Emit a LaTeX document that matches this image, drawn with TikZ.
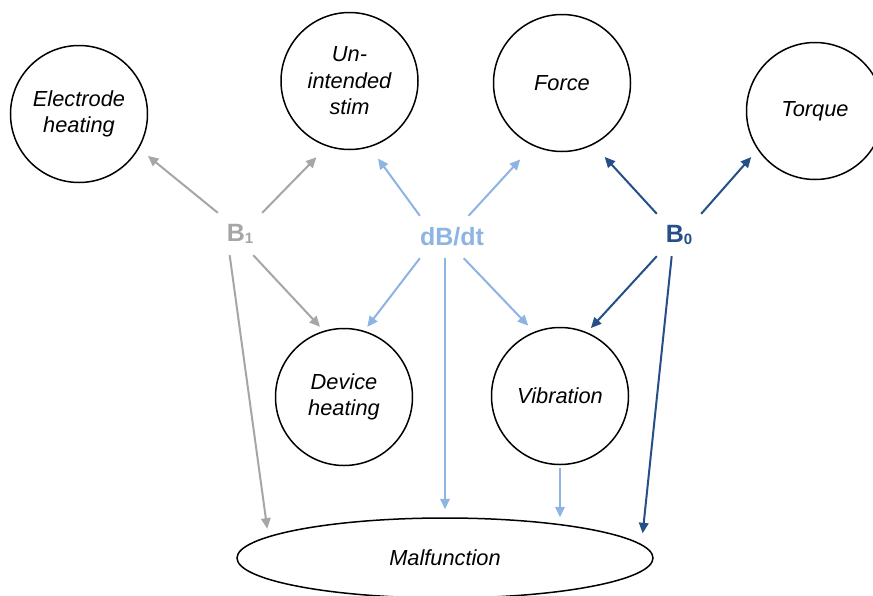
\documentclass[tikz,border=0pt]{standalone}
\usepackage{fontspec}
\setmainfont{Liberation Sans}
\usetikzlibrary{shapes.geometric,arrows.meta}
\definecolor{gB}{RGB}{166,166,166}
\definecolor{lB}{RGB}{141,180,226}
\definecolor{dB}{RGB}{36,79,135}
\newcommand{\mysub}[1]{\raisebox{-1.5pt}{\fontsize{15}{15}\selectfont #1}}
\begin{document}
\begin{tikzpicture}[x=1pt,y=-1pt,
  bub/.style={draw=black, circle, line width=1.5pt, minimum size=137pt, inner sep=0pt,
    align=center, font=\fontsize{21.8}{26.5}\selectfont\itshape},
  lab/.style={inner sep=0pt, minimum width=44pt, minimum height=42pt,
    font=\fontsize{25}{25}\selectfont\bfseries},
  arr/.style={line width=2pt, -{Triangle[length=10.5pt,width=9.5pt]}},
  garr/.style={arr, draw=gB, fill=gB},
  larr/.style={arr, draw=lB, fill=lB},
  darr/.style={arr, draw=dB, fill=dB}]
\clip (0,0) rectangle (873,595);
\fill[white] (0,0) rectangle (873,595);

\node[bub] (eh) at (79,114) {Electrode\\heating};
\node[bub] (uis) at (349.5,81) {Un-\\intended\\stim};
\node[bub] (force) at (562,83) {Force};
\node[bub] (torque) at (815,111) {Torque};
\node[bub] (dh) at (344,397) {Device\\heating};
\node[bub] (vib) at (560,396) {Vibration};
\node[draw=black, ellipse, line width=1.5pt, minimum width=416pt, minimum height=80pt,
  inner sep=0pt, font=\fontsize{21.8}{26.5}\selectfont\itshape] (mf) at (445,558) {Malfunction};

\node[lab, text=gB] (b1) at (240,234) {B\mysub{1}};
\node[lab, text=lB, minimum width=46pt] (dbdt) at (452,237) {dB/dt};
\node[lab, text=dB] (b0) at (679,235) {B\mysub{0}};

\draw[garr, shorten >=11.5pt] (b1.north west) -- (eh.-30);
\draw[garr, shorten >=15pt] (b1.north east) -- (uis.-109);
\draw[garr, shorten >=5.5pt] (b1.-58) -- (dh.107);
\draw[garr, shorten >=7.7pt] (b1.-116.6) -- (mf.173.5);

\draw[larr, shorten >=14pt] (dbdt.north west) -- (uis.-73.6);
\draw[larr, shorten >=18.5pt] (dbdt.52.7) -- (force.-115.3);
\draw[larr, shorten >=5pt] (dbdt.south west) -- (dh.73.5);
\draw[larr, shorten >=8.5pt] (dbdt.-61.2) -- (vib.112.3);
\draw[larr, shorten >=8pt] (dbdt.south -| mf.north) -- (mf.north);
\draw[larr, shorten <=3pt] (vib.south) -- (vib.south |- mf.north);

\draw[darr, shorten >=16.6pt] (b0.north west) -- (force.-63.6);
\draw[darr, shorten >=9.7pt] (b0.north east) -- (torque.-146.3);
\draw[darr, shorten >=5.7pt] (b0.south west) -- (vib.67.7);
\draw[darr, shorten >=11pt] (b0.-109.3) -- (mf.4.8);
\end{tikzpicture}
\end{document}
